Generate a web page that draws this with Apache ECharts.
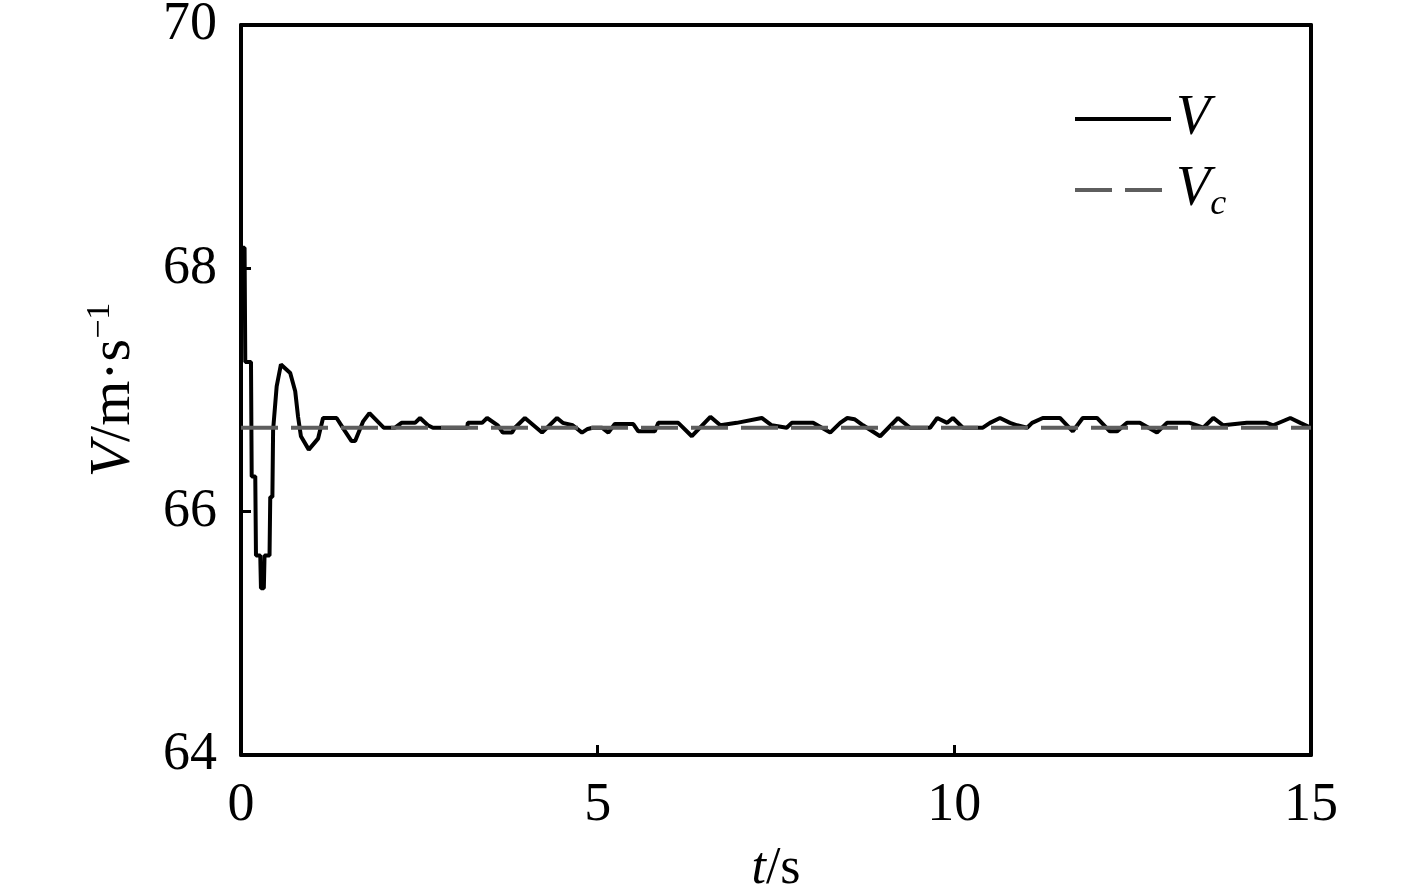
<!DOCTYPE html>
<html lang="en">
<head>
    <meta charset="UTF-8">
    <title>V</title>
    <script type="text/javascript" src="https://cdn.jsdelivr.net/npm/echarts@6/dist/echarts.min.js"></script>
    <style>
        html, body { margin: 0; padding: 0; background: #fff; }
    </style>
</head>
<body>
<div id="main" style="width:1417px;height:893px;"></div>
<script type="text/javascript">
    // time (s) and speed V (m/s)
    var tV = [0, 0.05, 0.06, 0.14, 0.15, 0.20, 0.21, 0.27, 0.28, 0.32, 0.33, 0.40, 0.41, 0.44, 0.45, 0.50, 0.56,
        0.69, 0.76, 0.80, 0.84, 0.95, 1.08, 1.15, 1.34, 1.46, 1.55, 1.60, 1.71, 1.80, 2.00, 2.16, 2.25, 2.44,
        2.51, 2.62, 2.69, 3.17, 3.18, 3.38, 3.45, 3.60, 3.67, 3.80, 3.84, 3.98, 4.22, 4.43, 4.51, 4.65, 4.78,
        4.86, 4.93, 5.06, 5.15, 5.24, 5.50, 5.57, 5.80, 5.85, 6.13, 6.32, 6.58, 6.72, 6.95, 7.30, 7.44, 7.65,
        7.72, 8.02, 8.26, 8.40, 8.50, 8.60, 8.72, 8.96, 9.21, 9.38, 9.66, 9.76, 9.90, 9.98, 10.12, 10.40, 10.50,
        10.64, 10.78, 10.88, 11.02, 11.09, 11.24, 11.48, 11.66, 11.80, 12.00, 12.18, 12.28, 12.42, 12.60, 12.84,
        12.98, 13.30, 13.49, 13.63, 13.77, 14.10, 14.38, 14.47, 14.71, 14.85, 15.00];
    var vV = [68.17, 68.17, 67.23, 67.23, 66.29, 66.29, 65.64, 65.64, 65.37, 65.37, 65.64, 65.64, 66.12, 66.12, 66.67, 67.03, 67.21,
        67.14, 66.99, 66.78, 66.62, 66.51, 66.60, 66.77, 66.77, 66.66, 66.58, 66.58, 66.74, 66.81, 66.69, 66.69, 66.73, 66.73,
        66.77, 66.71, 66.69, 66.69, 66.73, 66.73, 66.77, 66.71, 66.65, 66.65, 66.69, 66.77, 66.65, 66.77, 66.73, 66.71, 66.65,
        66.68, 66.69, 66.69, 66.65, 66.72, 66.72, 66.66, 66.66, 66.73, 66.73, 66.62, 66.78, 66.71, 66.73, 66.77, 66.71, 66.69,
        66.73, 66.73, 66.65, 66.73, 66.77, 66.76, 66.71, 66.62, 66.77, 66.69, 66.69, 66.77, 66.73, 66.77, 66.69, 66.69, 66.73,
        66.77, 66.73, 66.71, 66.69, 66.73, 66.77, 66.77, 66.66, 66.77, 66.77, 66.66, 66.66, 66.73, 66.73, 66.65,
        66.73, 66.73, 66.69, 66.77, 66.71, 66.73, 66.73, 66.71, 66.77, 66.73, 66.69];
    // commanded speed Vc
    var tVc = [0, 15];
    var vVc = [66.69, 66.69];

    var xTicks = [0, 5, 10, 15];
    var yTicks = [64, 66, 68, 70];

    function pairs(xs, ys) {
        var out = [];
        for (var i = 0; i < xs.length; i++) {
            out.push([xs[i], ys[i]]);
        }
        return out;
    }

    var serif = '"Liberation Serif", "Times New Roman", serif';
    var black = '#000';
    var grey = '#5e5e5e';
    var myChart = echarts.init(document.getElementById('main'));

    var frame = { show: true, onZero: false, lineStyle: { color: black, width: 4 } };

    var option = {
        backgroundColor: '#fff',
        animation: false,
        textStyle: { fontFamily: serif },
        grid: { left: 241, right: 106, top: 25, bottom: 138, show: false, containLabel: false, outerBoundsMode: 'none' },
        legend: {
            orient: 'vertical',
            left: 1068,
            top: 86,
            itemWidth: 96,
            itemHeight: 56,
            itemGap: 10,
            itemStyle: { opacity: 0 },
            textStyle: {
                fontFamily: serif,
                fontSize: 56,
                color: black,
                rich: {
                    it: { fontFamily: serif, fontSize: 56, lineHeight: 56, fontStyle: 'italic', color: black },
                    sub: { fontFamily: serif, fontSize: 36, lineHeight: 56, fontStyle: 'italic', color: black,
                        padding: [30, 0, 0, 0] }
                }
            },
            formatter: function (name) {
                if (name === 'Vc') return '{it|V}{sub|c}';
                return '{it|V}';
            },
            data: [
                { name: 'V', lineStyle: { color: black, width: 4, type: 'solid' } },
                { name: 'Vc', lineStyle: { color: grey, width: 4, type: [37, 13] } }
            ]
        },
        xAxis: [{
            type: 'value',
            min: 0,
            max: 15,
            interval: 5,
            name: '{it|t}/s',
            nameLocation: 'middle',
            nameGap: 88,
            nameTextStyle: {
                fontFamily: serif,
                fontSize: 52,
                color: black,
                rich: {
                    it: { fontFamily: serif, fontSize: 52, fontStyle: 'italic', color: black }
                }
            },
            axisLine: frame,
            axisTick: { show: true, inside: true, length: 10, lineStyle: { color: black, width: 3 } },
            axisLabel: {
                fontFamily: serif, fontSize: 54, color: black, margin: 24,
                formatter: function (v) { return xTicks.indexOf(v) >= 0 ? String(v) : ''; }
            },
            splitLine: { show: false }
        }, {
            type: 'value', min: 0, max: 15, interval: 5, position: 'top',
            axisLine: frame, axisTick: { show: false }, axisLabel: { show: false }, splitLine: { show: false }
        }],
        yAxis: [{
            type: 'value',
            min: 64,
            max: 70,
            interval: 2,
            name: '{it|V}/m·s{sup|−1}',
            nameLocation: 'middle',
            nameGap: 96,
            nameRotate: 90,
            nameTextStyle: {
                fontFamily: serif,
                fontSize: 58,
                color: black,
                rich: {
                    it: { fontFamily: serif, fontSize: 58, fontStyle: 'italic', color: black },
                    sup: { fontFamily: serif, fontSize: 34, color: black, padding: [0, 0, 28, 0] }
                }
            },
            axisLine: frame,
            axisTick: { show: true, inside: true, length: 10, lineStyle: { color: black, width: 3 } },
            axisLabel: {
                fontFamily: serif, fontSize: 54, color: black, margin: 24,
                formatter: function (v) { return yTicks.indexOf(v) >= 0 ? String(v) : ''; }
            },
            splitLine: { show: false }
        }, {
            type: 'value', min: 64, max: 70, interval: 2, position: 'right',
            axisLine: frame, axisTick: { show: false }, axisLabel: { show: false }, splitLine: { show: false }
        }],
        series: [
            {
                name: 'V',
                type: 'line',
                symbol: 'none',
                data: pairs(tV, vV),
                lineStyle: { color: black, width: 4 },
                itemStyle: { color: black },
                z: 2
            },
            {
                name: 'Vc',
                type: 'line',
                symbol: 'none',
                data: pairs(tVc, vVc),
                lineStyle: { color: grey, width: 4, type: [37, 13] },
                itemStyle: { color: grey },
                z: 3
            }
        ]
    };

    myChart.setOption(option, true);
</script>
</body>
</html>
